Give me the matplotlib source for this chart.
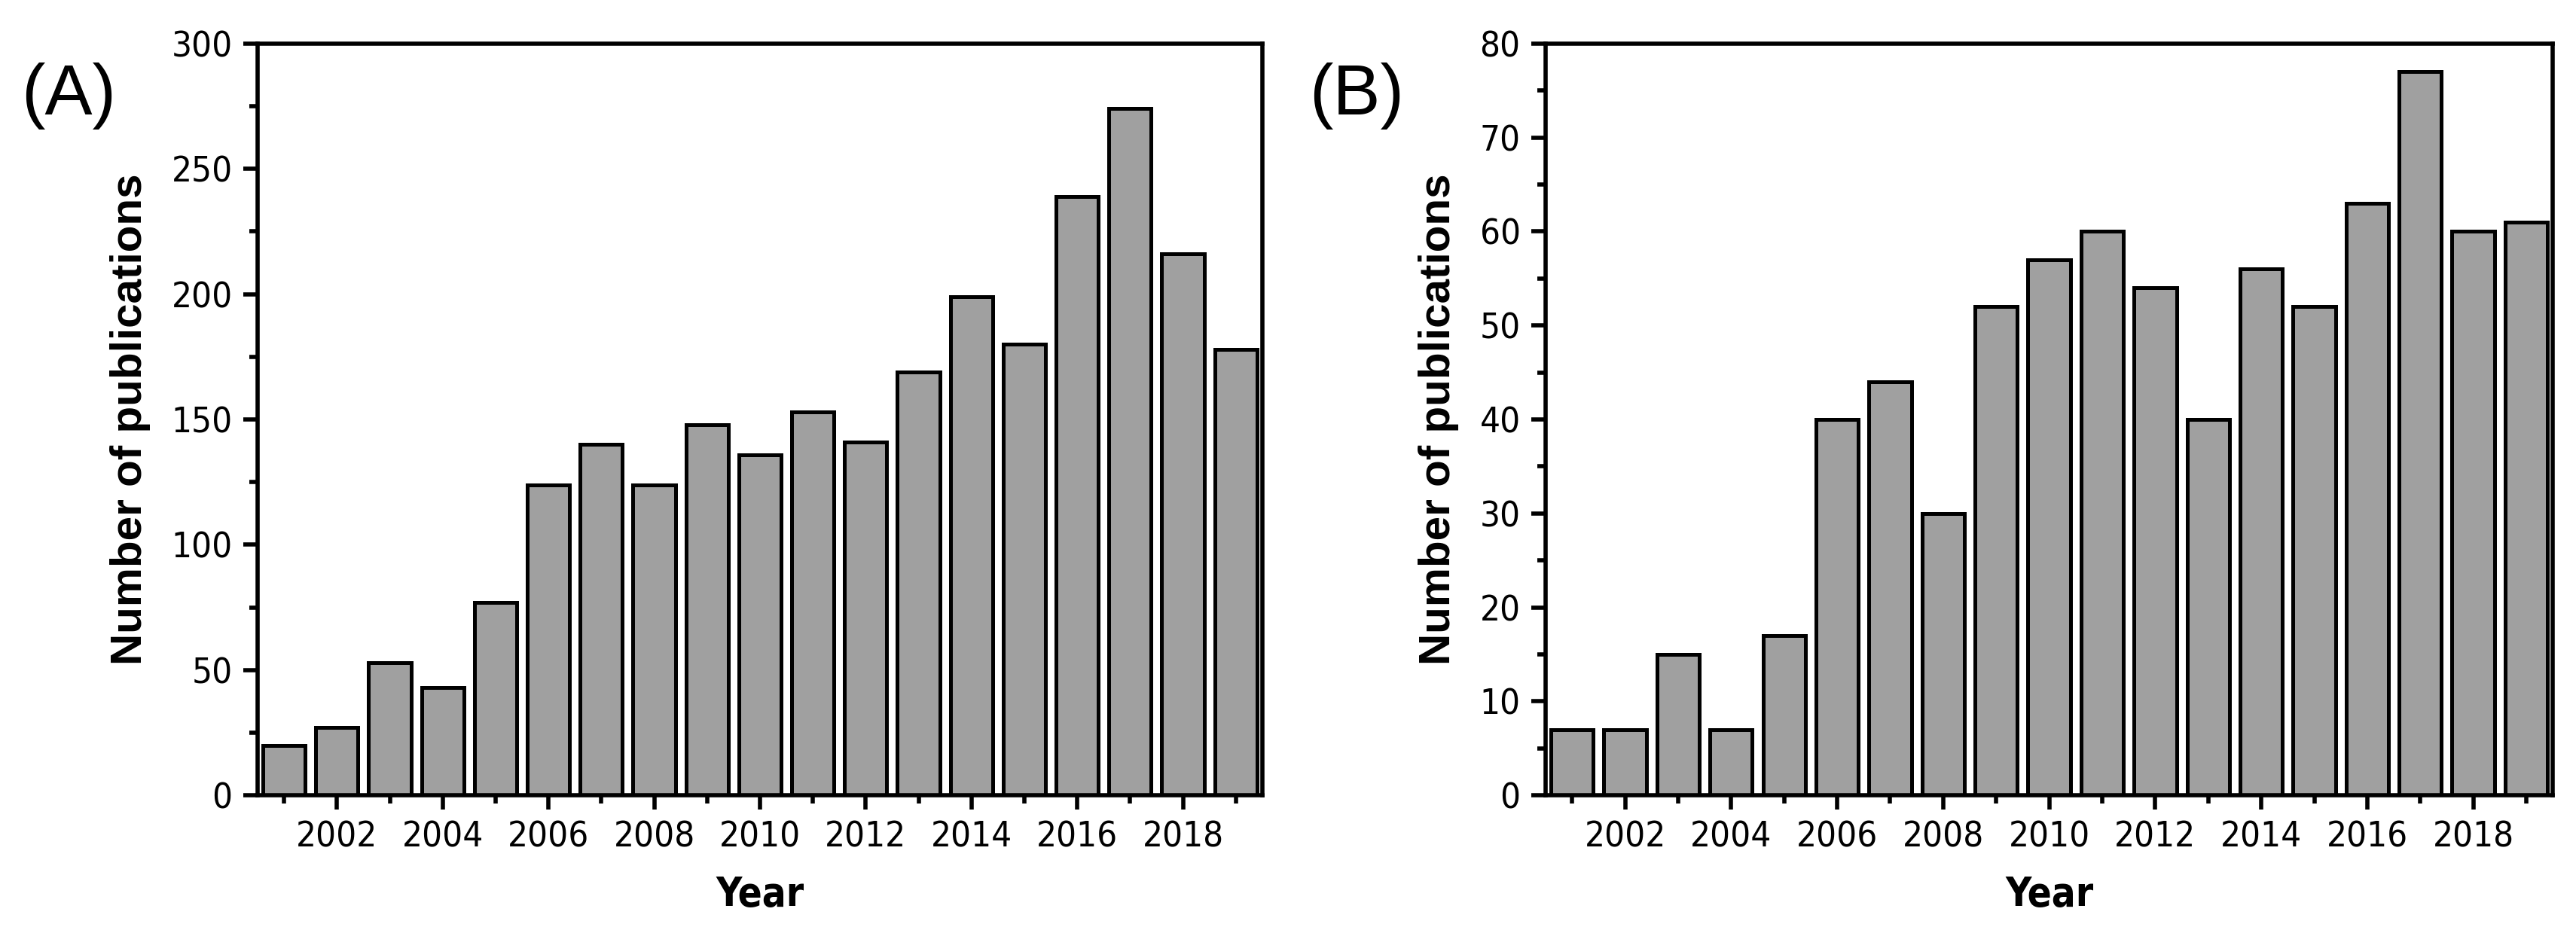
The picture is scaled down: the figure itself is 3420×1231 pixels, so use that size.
import numpy as np
import matplotlib
matplotlib.use("Agg")
import matplotlib.pyplot as plt
from matplotlib.ticker import MultipleLocator

# Dados
anos = np.arange(2001, 2020)
pub_a = [20, 27, 53, 43, 77, 124, 140, 124, 148, 136, 153, 141, 169, 199, 180, 239, 274, 216, 178]
pub_b = [7, 7, 15, 7, 17, 40, 44, 30, 52, 57, 60, 54, 40, 56, 52, 63, 77, 60, 61]
rotulos = ["(A)", "(B)"]
ylims = [(0, 300), (0, 80)]
passos = [(50, 25), (10, 5)]

plt.rcParams["font.family"] = ["DejaVu Sans"]
plt.rcParams["font.stretch"] = "condensed"

fig = plt.figure(figsize=(17.1, 6.155), dpi=200)
posicoes = [[0.100, 0.142, 0.390, 0.811], [0.600, 0.142, 0.391, 0.811]]

for pos, dados, rot, ylim, (maj, mnr) in zip(posicoes, [pub_a, pub_b], rotulos, ylims, passos):
    ax = fig.add_axes(pos)
    ax.bar(anos, dados, width=0.8, color="#a0a0a0", edgecolor="black", linewidth=1.8)
    ax.set_xlim(2000.5, 2019.5)
    ax.set_ylim(*ylim)
    ax.xaxis.set_major_locator(MultipleLocator(2))
    ax.xaxis.set_minor_locator(MultipleLocator(1))
    ax.yaxis.set_major_locator(MultipleLocator(maj))
    ax.yaxis.set_minor_locator(MultipleLocator(mnr))
    ax.tick_params(which="major", direction="out", length=7, width=2.0, labelsize=17, pad=5)
    ax.tick_params(which="minor", direction="out", length=4, width=2.0)
    for s in ax.spines.values():
        s.set_linewidth(2.0)
    ax.set_xlabel("Year", fontsize=19, fontweight="bold", labelpad=10)
    ax.set_ylabel("Number of publications", fontsize=21, fontweight="bold",
                  family=["Liberation Sans", "DejaVu Sans"], stretch="normal", labelpad=10)
    ax.text(-0.235, 0.93, rot, transform=ax.transAxes, fontsize=34, ha="left", va="center",
            family=["Liberation Sans", "DejaVu Sans"], stretch="normal")

fig.savefig("out.png", dpi=200)
